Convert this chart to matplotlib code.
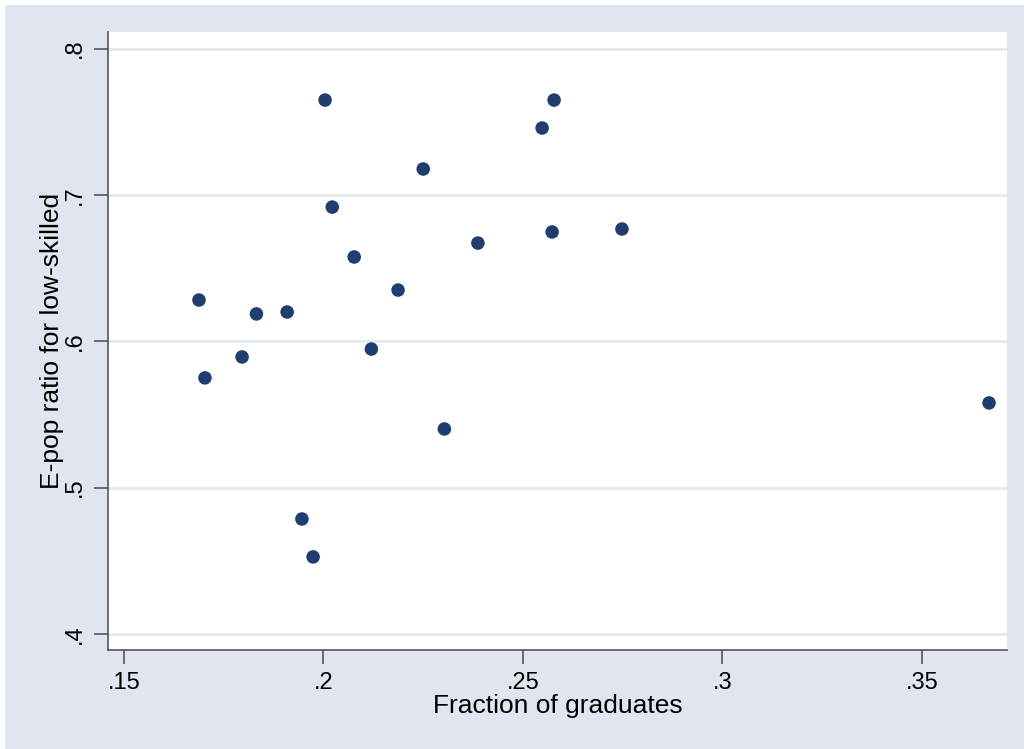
import numpy as np
import matplotlib.pyplot as plt
from matplotlib.patches import Rectangle

# fraction of graduates vs e-pop ratio for low-skilled
frac_grad = [0.1688, 0.1703, 0.1796, 0.1832, 0.1909, 0.1946, 0.1974, 0.2004, 0.2022, 0.2077,
             0.2120, 0.2187, 0.2250, 0.2303, 0.2387, 0.2548, 0.2578, 0.2573, 0.2748, 0.3668]
epop_low = [0.6282, 0.5750, 0.5893, 0.6187, 0.6200, 0.4786, 0.4527, 0.7648, 0.6917, 0.6576,
            0.5947, 0.6350, 0.7177, 0.5401, 0.6671, 0.7457, 0.7648, 0.6747, 0.6767, 0.5579]

x_ticks = [0.15, 0.2, 0.25, 0.3, 0.35]
x_labels = ['.15', '.2', '.25', '.3', '.35']
y_ticks = [0.4, 0.5, 0.6, 0.7, 0.8]
y_labels = ['.4', '.5', '.6', '.7', '.8']

plt.rcParams['font.family'] = ['Liberation Sans', 'DejaVu Sans']

bg = '#e0e5ef'
fig = plt.figure(figsize=(10.24, 7.49), dpi=100, facecolor='white')
# stata-ish graph region, with thin white strip at top/left
fig.patches.append(Rectangle((5 / 1024, 0), 1, 1 - 5 / 749, transform=fig.transFigure,
                             facecolor=bg, edgecolor='none', zorder=-10))

ax = fig.add_axes([108 / 1024, 1 - 650 / 749, (1007 - 108) / 1024, (650 - 32) / 749])
ax.set_facecolor('white')

ax.scatter(frac_grad, epop_low, s=95, color='#1f3d6e', edgecolors='none', zorder=3)

ax.set_xlim(0.146, 0.3713)
ax.set_ylim(0.3891, 0.8113)

ax.set_xticks(x_ticks)
ax.set_xticklabels(x_labels)
ax.set_yticks(y_ticks)
ax.set_yticklabels(y_labels, rotation=90, va='center')

ax.grid(True, axis='y', color='#e4e8f1', linewidth=2)
ax.set_axisbelow(True)

for s in ['top', 'right']:
    ax.spines[s].set_visible(False)
for s in ['left', 'bottom']:
    ax.spines[s].set_color('#555555')
    ax.spines[s].set_linewidth(1.2)

ax.tick_params(axis='both', length=10, width=1.2, color='#555555', labelsize=17, pad=6)

ax.set_xlabel('Fraction of graduates', fontsize=19, labelpad=0)
ax.set_ylabel('E-pop ratio for low-skilled', fontsize=19, labelpad=0)

fig.savefig('out.png', dpi=100, facecolor=fig.get_facecolor())
